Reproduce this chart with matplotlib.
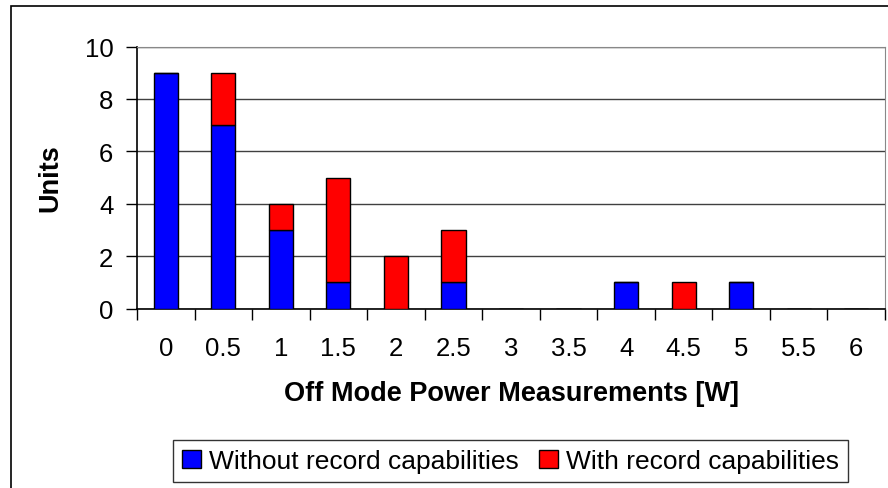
import matplotlib.pyplot as plt
from matplotlib.patches import Rectangle

plt.rcParams['font.family'] = ['Liberation Sans', 'DejaVu Sans']

# data
power = ["0", "0.5", "1", "1.5", "2", "2.5", "3", "3.5", "4", "4.5", "5", "5.5", "6"]
without_record = [9, 7, 3, 1, 0, 1, 0, 0, 1, 0, 1, 0, 0]
with_record = [0, 2, 1, 4, 2, 2, 0, 0, 0, 1, 0, 0, 0]

fig = plt.figure(figsize=(8.88, 4.89), dpi=100)
ax = fig.add_axes([137 / 888, 1 - 309.5 / 489, (885 - 137) / 888, (309.5 - 47.5) / 489])

# outer chart frame (cut off at right and bottom like the original)
fig.patches.append(Rectangle((11 / 888, -0.1), 1.2, 1.1 - 7 / 489,
                             transform=fig.transFigure, fill=False,
                             edgecolor="black", linewidth=1.2))

x = list(range(len(power)))
ax.bar(x, without_record, width=0.42, color="#0000ff", edgecolor="black",
       linewidth=1, label="Without record capabilities", zorder=3)
ax.bar(x, with_record, width=0.42, bottom=without_record, color="#ff0000",
       edgecolor="black", linewidth=1, label="With record capabilities", zorder=3)

ax.set_xlim(-0.5, len(power) - 0.5)
ax.set_ylim(0, 10)
ax.set_yticks([0, 2, 4, 6, 8, 10])
ax.set_xticks(x)
ax.set_xticklabels(power)
ax.set_xticks([i - 0.5 for i in range(len(power) + 1)], minor=True)
ax.tick_params(axis="x", which="major", length=0, labelsize=18.5, pad=20)
ax.tick_params(axis="x", which="minor", length=8, width=1, direction="out")
ax.tick_params(axis="y", length=8, width=1, direction="out", labelsize=18.5, pad=9)

ax.yaxis.grid(True, color="#404040", linewidth=1, zorder=0)
ax.spines["top"].set_color("#888888")
ax.spines["right"].set_color("#888888")
for s in ["left", "bottom"]:
    ax.spines[s].set_linewidth(1.2)

ax.set_ylabel("Units", fontsize=19.5, fontweight="bold", labelpad=15)
ax.set_xlabel("Off Mode Power Measurements [W]", fontsize=19.5, fontweight="bold",
              labelpad=14)

leg = fig.legend(loc="center", bbox_to_anchor=(510.5 / 888, 1 - 462 / 489),
                 ncol=2, fontsize=19, frameon=True, fancybox=False,
                 edgecolor="black", handlelength=0.7, handleheight=0.7,
                 handletextpad=0.3, columnspacing=0.8, borderpad=0.35,
                 borderaxespad=0)
leg.get_frame().set_linewidth(1)

fig.savefig("out.png", dpi=100)
